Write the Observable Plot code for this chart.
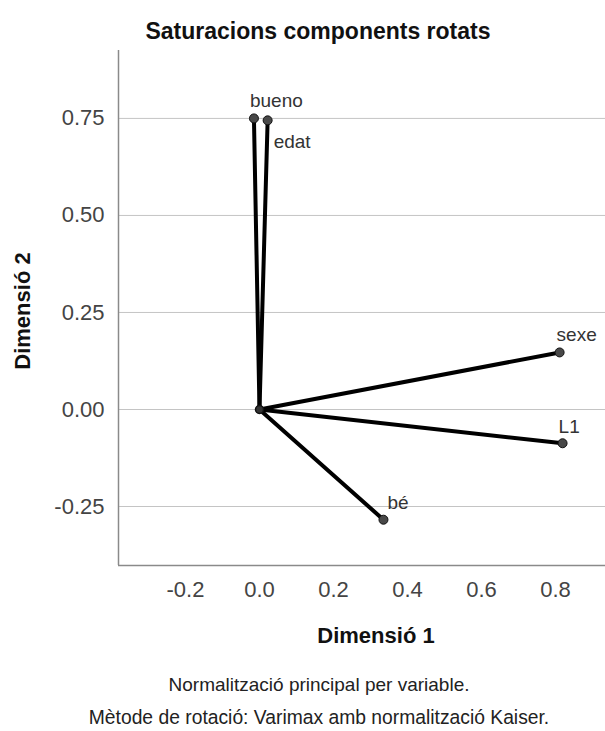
<!DOCTYPE html>
<html>
<head>
<meta charset="utf-8">
<script src="https://cdn.jsdelivr.net/npm/d3@7"></script>
<script src="https://cdn.jsdelivr.net/npm/@observablehq/plot@0.6"></script>
<style>
  html, body { margin: 0; padding: 0; background: #fff; }
  #chart svg { display: block; font-family: "Liberation Sans", Arial, sans-serif; }
</style>
</head>
<body>
<div id="chart"></div>
<script>
// ---- data ----
const variables = ["bueno", "edat", "sexe", "L1", "bé"];
const dim1 = [-0.015, 0.022, 0.811, 0.819, 0.335];
const dim2 = [0.750, 0.745, 0.147, -0.087, -0.284];
const yTicks = [0.75, 0.50, 0.25, 0.00, -0.25];
const xTicks = [-0.2, 0.0, 0.2, 0.4, 0.6, 0.8];
const titleText = "Saturacions components rotats";
const xLabel = "Dimensió 1";
const yLabel = "Dimensió 2";
const captions = ["Normalització principal per variable.", "Mètode de rotació: Varimax amb normalització Kaiser."];

const rows = variables.map((v, i) => ({name: v, d1: dim1[i], d2: dim2[i]}));

// label placement (style only)
const labelPlacement = {
  "bueno": {dx: -4, dy: -18},
  "edat": {dx: 6, dy: 22},
  "sexe": {dx: -3, dy: -18},
  "L1": {dx: -4, dy: -16},
  "bé": {dx: 4, dy: -17}
};

const W = 605, H = 731;
const xDomain = [-0.381, 0.935];
const yDomain = [-0.402, 0.925];

const plot = Plot.plot({
  width: W,
  height: H,
  marginLeft: 118,
  marginRight: 0,
  marginTop: 50,
  marginBottom: 166,
  style: {fontFamily: "'Liberation Sans', Arial, sans-serif", background: "#fff"},
  x: {domain: xDomain},
  y: {domain: yDomain},
  marks: [
    Plot.gridY(yTicks, {stroke: "#c4c4c4", strokeOpacity: 1, strokeWidth: 1}),
    Plot.ruleX([xDomain[0]], {stroke: "#8a8a8a", strokeWidth: 1.5}),
    Plot.ruleY([yDomain[0]], {stroke: "#8a8a8a", strokeWidth: 1.5}),
    Plot.axisY(yTicks, {tickSize: 0, tickPadding: 14, fontSize: 22, fill: "#444", label: null, tickFormat: d => d.toFixed(2)}),
    Plot.axisX(xTicks, {tickSize: 0, tickPadding: 16, fontSize: 22, fill: "#444", label: null, tickFormat: d => d.toFixed(1)}),
    Plot.link(rows, {x1: () => 0, y1: () => 0, x2: "d1", y2: "d2", stroke: "#000", strokeWidth: 4, strokeLinecap: "round"}),
    Plot.dot([{d1: 0, d2: 0}], {x: "d1", y: "d2", r: 4, fill: "#333", stroke: "#111"}),
    Plot.dot(rows, {x: "d1", y: "d2", r: 4.5, fill: "#484848", stroke: "#111", strokeWidth: 1}),
    ...rows.map(r => Plot.text([r], {
      x: "d1", y: "d2", text: "name",
      textAnchor: "start",
      dx: labelPlacement[r.name].dx, dy: labelPlacement[r.name].dy,
      fontSize: 19, fill: "#333"
    }))
  ]
});

const svg = d3.select(plot);
svg.append("text")
  .attr("x", 318).attr("y", 39)
  .attr("text-anchor", "middle")
  .attr("font-size", 23).attr("font-weight", "bold").attr("fill", "#111")
  .text(titleText);
svg.append("text")
  .attr("x", 376).attr("y", 643)
  .attr("text-anchor", "middle")
  .attr("font-size", 22).attr("font-weight", "bold").attr("fill", "#111")
  .text(xLabel);
svg.append("text")
  .attr("transform", "translate(30,311) rotate(-90)")
  .attr("text-anchor", "middle")
  .attr("font-size", 22).attr("font-weight", "bold").attr("fill", "#111")
  .text(yLabel);
svg.append("text")
  .attr("x", 319).attr("y", 691)
  .attr("text-anchor", "middle")
  .attr("font-size", 19).attr("fill", "#222")
  .text(captions[0]);
svg.append("text")
  .attr("x", 319).attr("y", 724)
  .attr("text-anchor", "middle")
  .attr("font-size", 19.3).attr("fill", "#222")
  .text(captions[1]);

document.getElementById("chart").appendChild(plot);
</script>
</body>
</html>
